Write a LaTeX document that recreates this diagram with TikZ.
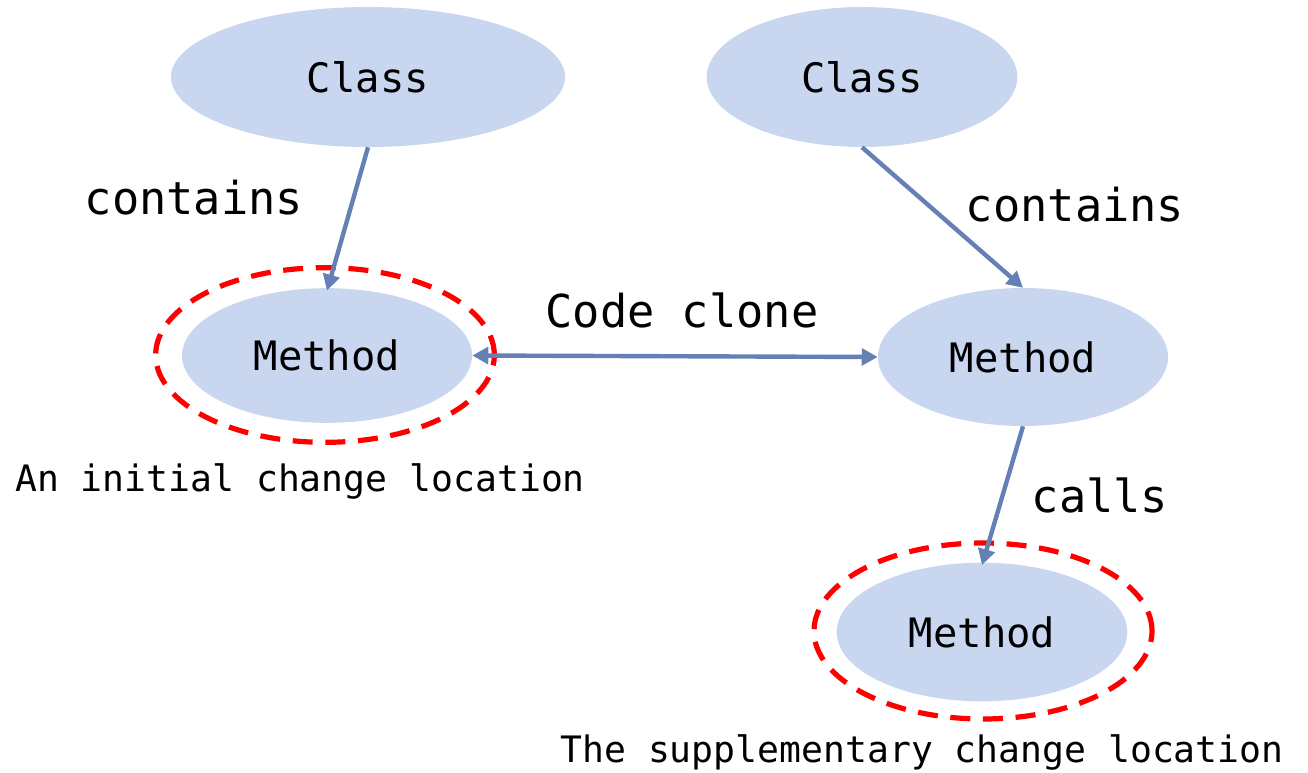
\documentclass[tikz,border=0pt]{standalone}
\usepackage{fontspec}
\setmonofont{DejaVu Sans Mono}
\usetikzlibrary{shapes.geometric,arrows.meta}
\definecolor{nodefill}{RGB}{201,214,240}
\definecolor{edgeblue}{RGB}{101,128,180}
\definecolor{markred}{RGB}{255,0,0}
\tikzset{
  entity/.style={ellipse, fill=nodefill, inner sep=0pt, font=\ttfamily\fontsize{30.4pt}{34pt}\selectfont},
  ring/.style={ellipse, draw=markred, line width=3.9pt, dash pattern=on 15pt off 9.5pt, inner sep=0pt},
  tip/.tip={Triangle[length=12pt,width=12.5pt]},
  link/.style={draw=edgeblue, line width=3.3pt, -tip},
  biglabel/.style={font=\ttfamily\fontsize{34pt}{38pt}\selectfont},
  note/.style={font=\ttfamily\fontsize{27.3pt}{30pt}\selectfont},
}
\begin{document}
\begin{tikzpicture}[x=0.75pt,y=-0.75pt]
\useasboundingbox (0,0) rectangle (1308,773);
% marked change locations
\node[ring, minimum width=254pt, minimum height=131pt] (d1) at (325,355) {};
\node[ring, minimum width=253.5pt, minimum height=132pt] (d3) at (983,631) {};
% entities
\node[entity, minimum width=295.5pt, minimum height=105pt] (c1) at (368,77) {Class};
\node[entity, minimum width=233pt, minimum height=105pt] (c2) at (862,77) {Class};
\node[entity, minimum width=217.5pt, minimum height=101pt] (m1) at (327,355.5) {Method};
\node[entity, minimum width=217.5pt, minimum height=103.5pt] (m2) at (1023,357) {Method};
\node[entity, minimum width=218pt, minimum height=104pt] (m3) at (982,632) {Method};
% relations
\draw[link] (c1.south) -- ([yshift=-2pt]m1.north);
\draw[link] (c2.south) -- (m2.north);
\draw[link, tip-tip] (m1.east) -- (m2.west);
\draw[link] (m2.south) -- ([yshift=-2pt]m3.north);
% labels
\node[biglabel] (l1) at (194,198) {contains};
\node[biglabel] (l2) at (1075,205) {contains};
\node[biglabel] (l3) at (682,310) {Code clone};
\node[biglabel] (l4) at (1100,495) {calls};
\node[note] (n1) at (300,481) {An initial change location};
\node[note] (n2) at (922,752) {The supplementary change location};
\end{tikzpicture}
\end{document}
